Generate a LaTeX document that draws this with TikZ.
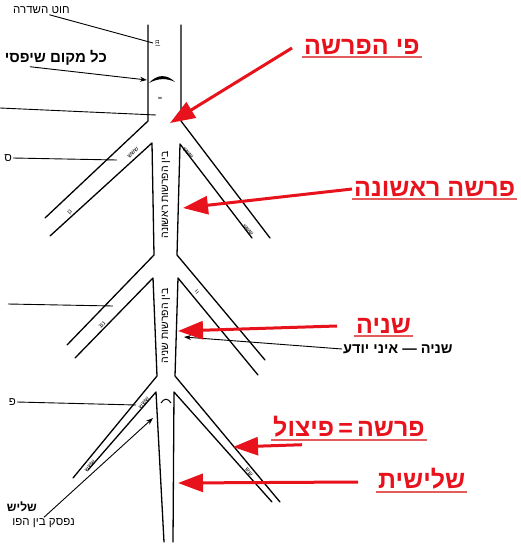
\documentclass[tikz,border=0pt]{standalone}
\usepackage{fontspec}
\setmainfont{Liberation Sans}
\newfontfamily\hebfont[Script=Hebrew]{Liberation Sans}
\TeXXeTstate=1
\usetikzlibrary{arrows.meta}
\definecolor{mRed}{HTML}{E8121C}
\definecolor{mRedLine}{HTML}{E35B5B}
\newcommand{\heb}[1]{\hebfont\beginR#1\endR}

\begin{document}
\begin{tikzpicture}[x=1pt, y=-1pt,
    wall/.style={line width=1.3pt, line join=round, line cap=round},
    pin/.style={line width=0.9pt},
    pinarrow/.style={pin, -{Stealth[length=7pt, width=5pt]}},
    note/.style={font=\fontsize{11.5}{13}\selectfont, inner sep=1pt},
    bnote/.style={font=\bfseries\fontsize{12}{14}\selectfont, inner sep=1pt},
    redlbl/.style={text=mRed, font=\bfseries\fontsize{25}{27}\selectfont, inner sep=2pt},
    uline/.style={draw=mRedLine, line width=1.6pt},
    redarrow/.style={draw=mRed, line width=3pt, -{Triangle[length=25pt, width=18pt]}},
    tick/.style={font=\fontsize{6}{6}\selectfont, inner sep=0pt},
    spinetext/.style={font=\fontsize{10.5}{11}\selectfont, rotate=90, inner sep=0pt}]
  \useasboundingbox (0,0) rectangle (521,544);

  % the cord and its three splits
  \draw[wall] (148,25) -- (148,121) -- (45,218);
  \draw[wall] (181,25) -- (181,121) -- (270,238);
  \draw[wall] (50,236) -- (152,143) -- (154,255) -- (67,345);
  \draw[wall] (252,238) -- (180,144) -- (177,255) -- (265,360);
  \draw[wall] (75,358) -- (153,278) -- (157,376) -- (73,478);
  \draw[wall] (258,375) -- (178,278) -- (175,376) -- (280,502);
  \draw[wall] (88,470) -- (156,392) -- (164,542);
  \draw[wall] (272,502) -- (174,392) -- (173,542);

  % break marks
  \fill (149,83) .. controls (157,74) and (167,74) .. (175,82)
    .. controls (167,78) and (158,78) .. (149,83) -- cycle;
  \draw[line width=1pt] (161,403) .. controls (164,398) and (168,398) .. (171,403);

  % small scribbles along the walls
  \node[tick, rotate=90] (t1) at (158,43) {\heb{ננן}};
  \node[tick, rotate=90] (t2) at (160,98) {\heb{וו}};
  \node[tick, rotate=45] (t3) at (133,153) {\heb{ששש}};
  \node[tick, rotate=-50] (t4) at (188,153) {\heb{ששש}};
  \node[tick, rotate=45] (t5) at (70,212) {\heb{נן}};
  \node[tick, rotate=-50] (t6) at (248,230) {\heb{ששש}};
  \node[tick, rotate=45] (t7) at (102,325) {\heb{נננ}};
  \node[tick, rotate=-50] (t8) at (197,292) {\heb{וו}};
  \node[tick, rotate=50] (t9) at (144,403) {\heb{ששש}};
  \node[tick, rotate=50] (t10) at (90,466) {\heb{ששש}};
  \node[tick, rotate=-50] (t11) at (249,472) {\heb{שש}};

  % texts inside the cord
  \node[spinetext] (between1) at (166,195) {\heb{בין הפרשות ראשונה}};
  \node[spinetext] (between2) at (166,326) {\heb{בין הפרשות שניה}};

  % black notes on the left
  \node[note, anchor=west] (cord) at (12,10) {\heb{חוט השדרה}};
  \coordinate (cordend) at (153,43);
  \draw[pin] ([xshift=8pt]cord.south) -- (cordend);

  \node[bnote, font=\bfseries\fontsize{15}{17}\selectfont, anchor=east] (anyplace) at (108,58) {\heb{כל מקום שיפסי}};
  \coordinate (anyplaceend) at (147,80);
  \draw[pinarrow] ([xshift=-26pt]anyplace.south) -- (anyplaceend);

  \coordinate (cutA) at (0,108);
  \coordinate (cutAend) at (156,115);
  \draw[pin] (cutA) -- (cutAend);

  \node[note, anchor=east] (samekh) at (13,158) {\heb{ס}};
  \coordinate (samekhend) at (117,160);
  \draw[pin] (samekh.east) -- (samekhend);

  \coordinate (cutB) at (8,304);
  \coordinate (cutBend) at (113,306);
  \draw[pin] (cutB) -- (cutBend);

  \node[note, anchor=east] (pe) at (17,402) {\heb{פ}};
  \coordinate (peend) at (136,405);
  \draw[pin] (pe.east) -- (peend);

  \node[bnote, anchor=east] (thirdleft) at (38,507) {\heb{שליש}};
  \node[note, anchor=east] (cutoff) at (76,523) {\heb{נפסק בין הפו}};
  \coordinate (thirdleftend) at (153,418);
  \draw[pinarrow] ([shift={(6,4)}]thirdleft.south east) -- (thirdleftend);

  % black note on the right
  \node[bnote, font=\bfseries\fontsize{14.5}{16}\selectfont, anchor=west] (dontknow) at (342,349) {\heb{שניה — איני יודע}};
  \coordinate (dontknowend) at (184,337);
  \draw[pinarrow] (dontknow.west) -- (dontknowend);

  % red labels
  \node[redlbl, anchor=west] (mouth) at (302,47) {\heb{פי הפרשה}};
  \node[redlbl, anchor=west] (first) at (352,189) {\heb{פרשה ראשונה}};
  \node[redlbl, anchor=west] (second) at (354,326) {\heb{שניה}};
  \node[redlbl, anchor=west] (split) at (271,427) {\heb{פרשה\,=\,פיצול}};
  \node[redlbl, anchor=west] (third) at (376,479) {\heb{שלישית}};
  \foreach \lbl in {mouth, first, second, split, third}
    \draw[uline] (\lbl.south west) -- (\lbl.south east);

  \coordinate (mouthtip) at (170,123);
  \coordinate (firsttip) at (183,208);
  \coordinate (secondtip) at (178,331);
  \coordinate (splittip) at (233,447);
  \coordinate (thirdtip) at (178,483);
  \draw[redarrow] ([shift={(-10,1)}]mouth.west) -- (mouthtip);
  \draw[redarrow] (first.west) -- (firsttip);
  \draw[redarrow] ([shift={(-17,0)}]second.west) -- (secondtip);
  \draw[redarrow] ([shift={(31,5)}]split.south west) -- (splittip);
  \draw[redarrow] ([shift={(-18,3)}]third.west) -- (thirdtip);
\end{tikzpicture}
\end{document}
